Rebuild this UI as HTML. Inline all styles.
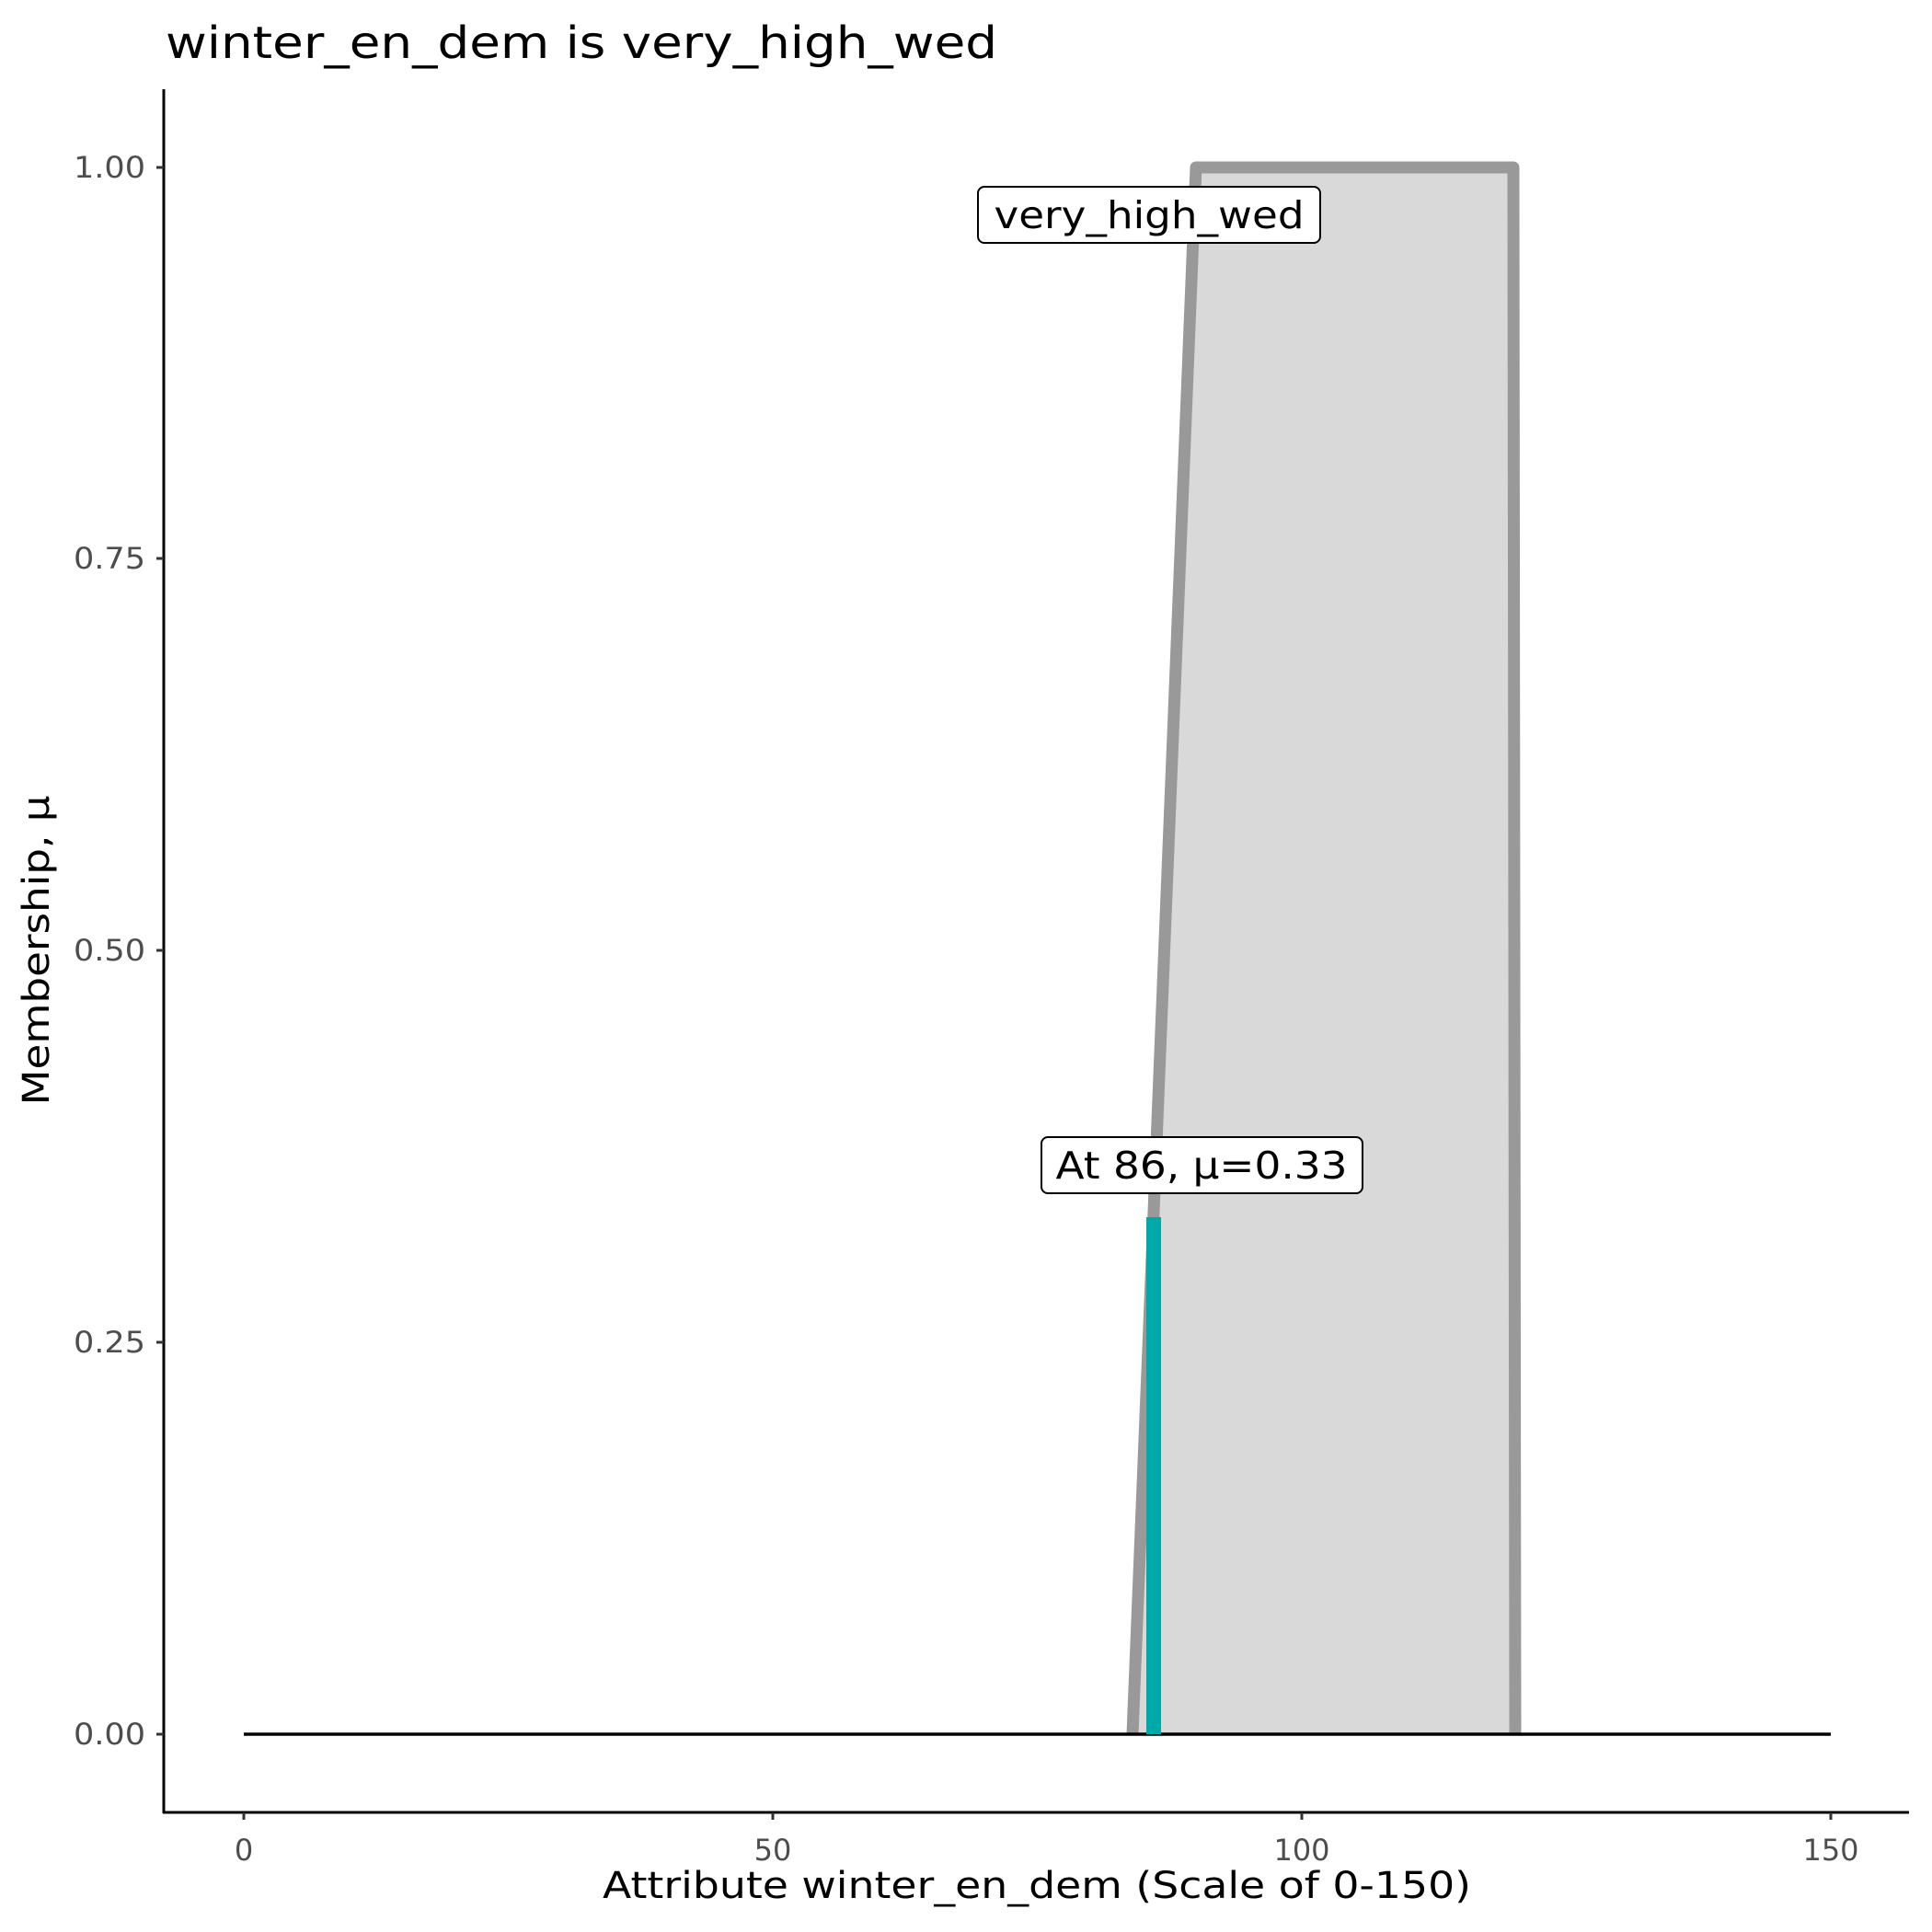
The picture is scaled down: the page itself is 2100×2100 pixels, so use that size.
<!DOCTYPE html>
<html><head><meta charset="utf-8"><style>html,body{margin:0;padding:0;background:#fff}svg{display:block}</style></head>
<body>
<svg width="2100" height="2100" viewBox="0 0 2100 2100" xmlns="http://www.w3.org/2000/svg" font-family="DejaVu Sans, Liberation Sans, sans-serif">
<rect width="2100" height="2100" fill="#fff"/>
<text x="180" y="63" font-size="48" fill="#000" textLength="904" lengthAdjust="spacingAndGlyphs">winter_en_dem is very_high_wed</text>
<polygon points="1231,1885 1300,182 1645,182 1647,1885" fill="#d9d9d9"/>
<polyline points="1231,1885 1300,182 1645,182 1647,1885" fill="none" stroke="#999" stroke-width="13" stroke-linejoin="round"/>
<line x1="265" y1="1885" x2="1990" y2="1885" stroke="#000" stroke-width="3.5"/>
<line x1="1254" y1="1885" x2="1254" y2="1323" stroke="#00a8a8" stroke-width="16"/>
<rect x="1063" y="203" width="372" height="61" rx="7" fill="#fff" stroke="#000" stroke-width="2"/>
<text x="1249" y="248" font-size="41" text-anchor="middle" fill="#000" textLength="337" lengthAdjust="spacingAndGlyphs">very_high_wed</text>
<rect x="1132" y="1236" width="349" height="61" rx="7" fill="#fff" stroke="#000" stroke-width="2"/>
<text x="1306" y="1281" font-size="41" text-anchor="middle" fill="#000" textLength="317" lengthAdjust="spacingAndGlyphs">At 86, μ=0.33</text>
<line x1="178" y1="97" x2="178" y2="1971" stroke="#000" stroke-width="3"/>
<line x1="177" y1="1970" x2="2075" y2="1970" stroke="#000" stroke-width="3"/>
<g stroke="#333" stroke-width="3">
<line x1="170" y1="182" x2="178" y2="182"/><line x1="170" y1="607" x2="178" y2="607"/><line x1="170" y1="1033" x2="178" y2="1033"/><line x1="170" y1="1459" x2="178" y2="1459"/><line x1="170" y1="1885" x2="178" y2="1885"/>
<line x1="265" y1="1970" x2="265" y2="1978"/><line x1="840" y1="1970" x2="840" y2="1978"/><line x1="1415" y1="1970" x2="1415" y2="1978"/><line x1="1990" y1="1970" x2="1990" y2="1978"/>
</g>
<g font-size="32" fill="#4d4d4d" text-anchor="end">
<text x="158" y="193" textLength="78" lengthAdjust="spacingAndGlyphs">1.00</text><text x="158" y="618" textLength="78" lengthAdjust="spacingAndGlyphs">0.75</text><text x="158" y="1044" textLength="78" lengthAdjust="spacingAndGlyphs">0.50</text><text x="158" y="1470" textLength="78" lengthAdjust="spacingAndGlyphs">0.25</text><text x="158" y="1896" textLength="78" lengthAdjust="spacingAndGlyphs">0.00</text>
</g>
<g font-size="32" fill="#4d4d4d" text-anchor="middle">
<text x="265" y="2022">0</text><text x="840" y="2022">50</text><text x="1415" y="2022">100</text><text x="1990" y="2022">150</text>
</g>
<text x="1127" y="2063" font-size="40" text-anchor="middle" fill="#000" textLength="944" lengthAdjust="spacingAndGlyphs">Attribute winter_en_dem (Scale of 0-150)</text>
<text transform="translate(53,1033) rotate(-90)" font-size="40" text-anchor="middle" fill="#000" textLength="337" lengthAdjust="spacingAndGlyphs">Membership, μ</text>
</svg>
</body></html>
